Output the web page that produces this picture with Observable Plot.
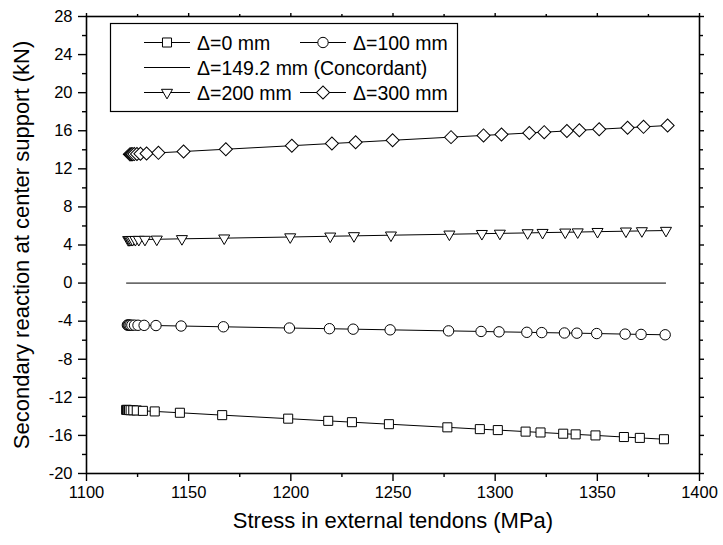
<!DOCTYPE html>
<html>
<head>
<meta charset="utf-8">
<script src="https://cdn.jsdelivr.net/npm/d3@7"></script>
<script src="https://cdn.jsdelivr.net/npm/@observablehq/plot@0.6"></script>
<style>
  body { margin: 0; background: #fff; }
  #chart { width: 723px; height: 545px; }
</style>
</head>
<body>
<div id="chart"></div>
<script>
// Secondary reaction at the center support versus external tendon stress,
// for several tendon eccentricities Δ.

const stress0 = [1119.4, 1119.8, 1120.2, 1120.8, 1121.6, 1122.9, 1124.6, 1127.6, 1133.4, 1145.7, 1166.4, 1198.7, 1218.3, 1229.9, 1248.0, 1276.6, 1292.5, 1301.3, 1314.9, 1322.2, 1333.3, 1339.4, 1349.1, 1363.0, 1370.8, 1382.6];
const reaction0 = [-13.32, -13.32, -13.33, -13.34, -13.35, -13.36, -13.38, -13.42, -13.48, -13.62, -13.87, -14.24, -14.47, -14.61, -14.82, -15.15, -15.34, -15.44, -15.60, -15.69, -15.82, -15.89, -16.00, -16.17, -16.26, -16.40];

const stress100 = [1120.0, 1120.4, 1120.8, 1121.4, 1122.2, 1123.5, 1125.2, 1128.2, 1134.0, 1146.3, 1167.0, 1199.3, 1218.9, 1230.5, 1248.6, 1277.2, 1293.1, 1301.9, 1315.5, 1322.8, 1333.9, 1340.0, 1349.7, 1363.6, 1371.4, 1383.2];
const reaction100 = [-4.41, -4.41, -4.41, -4.42, -4.42, -4.42, -4.43, -4.44, -4.46, -4.51, -4.59, -4.72, -4.79, -4.84, -4.91, -5.02, -5.08, -5.12, -5.17, -5.20, -5.24, -5.26, -5.30, -5.36, -5.39, -5.43];

const stressConcordant = [1119.6, 1383.4];
const reactionConcordant = [0, 0];

const stress200 = [1120.4, 1120.8, 1121.2, 1121.8, 1122.6, 1123.9, 1125.6, 1128.6, 1134.4, 1146.7, 1167.4, 1199.7, 1219.3, 1230.9, 1249.0, 1277.6, 1293.5, 1302.3, 1315.9, 1323.2, 1334.3, 1340.4, 1350.1, 1364.0, 1371.8, 1383.6];
const reaction200 = [4.55, 4.55, 4.55, 4.56, 4.56, 4.56, 4.57, 4.58, 4.60, 4.65, 4.72, 4.84, 4.92, 4.96, 5.03, 5.13, 5.19, 5.22, 5.27, 5.30, 5.34, 5.36, 5.40, 5.45, 5.48, 5.52];

const stress300 = [1121.2, 1121.6, 1122.0, 1122.6, 1123.4, 1124.7, 1126.4, 1129.4, 1135.2, 1147.5, 1168.2, 1200.5, 1220.1, 1231.7, 1249.8, 1278.4, 1294.3, 1303.1, 1316.7, 1324.0, 1335.1, 1341.2, 1350.9, 1364.8, 1372.6, 1384.4];
const reaction300 = [13.52, 13.52, 13.53, 13.54, 13.55, 13.56, 13.58, 13.61, 13.68, 13.82, 14.06, 14.43, 14.66, 14.79, 15.00, 15.33, 15.51, 15.61, 15.77, 15.85, 15.98, 16.05, 16.16, 16.32, 16.41, 16.55];

const seriesNames = ["Δ=0 mm", "Δ=100 mm", "Δ=149.2 mm (Concordant)", "Δ=200 mm", "Δ=300 mm"];

const xTicks = [1100, 1150, 1200, 1250, 1300, 1350, 1400];
const xMinorTicks = [1125, 1175, 1225, 1275, 1325, 1375];
const yTicks = [-20, -16, -12, -8, -4, 0, 4, 8, 12, 16, 20, 24, 28];
const yMinorTicks = [-18, -14, -10, -6, -2, 2, 6, 10, 14, 18, 22, 26];

const xTitle = "Stress in external tendons (MPa)";
const yTitle = "Secondary reaction at center support (kN)";

// marker styles per series (null = plain line)
const series = [
  {name: seriesNames[0], stress: stress0, reaction: reaction0, symbol: "square", r: 5.1, rotate: 0},
  {name: seriesNames[1], stress: stress100, reaction: reaction100, symbol: "circle", r: 5.2, rotate: 0},
  {name: seriesNames[2], stress: stressConcordant, reaction: reactionConcordant, symbol: null},
  {name: seriesNames[3], stress: stress200, reaction: reaction200, symbol: "triangle", r: 4.1, rotate: 180},
  {name: seriesNames[4], stress: stress300, reaction: reaction300, symbol: "square", r: 5.2, rotate: 45}
];

const font = "'Liberation Sans', Arial, sans-serif";
const blank = () => "";
const plain = d => String(d);

const marks = [
  // left and bottom axes with labels, ticks pointing outward
  Plot.axisY({ticks: yTicks, tickSize: 8, tickPadding: 6, fontSize: 16.5, tickFormat: plain, label: null, strokeWidth: 1.4}),
  Plot.axisY({ticks: yMinorTicks, tickSize: 4, tickFormat: blank, label: null, strokeWidth: 1.4}),
  Plot.axisX({ticks: xTicks, tickSize: 8, tickPadding: 5, fontSize: 16.5, tickFormat: plain, label: null, strokeWidth: 1.4}),
  Plot.axisX({ticks: xMinorTicks, tickSize: 4, tickFormat: blank, label: null, strokeWidth: 1.4}),
  // mirrored top and right axes, ticks only
  Plot.axisY({anchor: "right", ticks: yTicks, tickSize: 4, tickFormat: blank, label: null, strokeWidth: 1.4}),
  Plot.axisY({anchor: "right", ticks: yMinorTicks, tickSize: 3, tickFormat: blank, label: null, strokeWidth: 1.4}),
  Plot.axisX({anchor: "top", ticks: xTicks, tickSize: 4, tickFormat: blank, label: null, strokeWidth: 1.4}),
  Plot.axisX({anchor: "top", ticks: xMinorTicks, tickSize: 3, tickFormat: blank, label: null, strokeWidth: 1.4}),
  Plot.frame({stroke: "black", strokeWidth: 1.6}),
  // axis titles
  Plot.text([xTitle], {text: d => d, frameAnchor: "bottom", dy: 54, fontSize: 22}),
  Plot.text([yTitle], {text: d => d, frameAnchor: "left", textAnchor: "middle", rotate: -90, dx: -65, fontSize: 22})
];

for (const s of series) {
  const data = s.stress.map((x, i) => ({x, y: s.reaction[i]}));
  marks.push(Plot.line(data, {x: "x", y: "y", stroke: "black", strokeWidth: 1}));
}
for (const s of series) {
  if (!s.symbol) continue;
  const data = s.stress.map((x, i) => ({x, y: s.reaction[i]}));
  marks.push(Plot.dot(data, {x: "x", y: "y", symbol: s.symbol, r: s.r, rotate: s.rotate,
                             fill: "white", stroke: "black", strokeWidth: 1}));
}

const chart = Plot.plot({
  width: 723,
  height: 545,
  marginLeft: 86,
  marginRight: 24,
  marginTop: 16,
  marginBottom: 72,
  style: {fontFamily: font, background: "#fff", color: "black", overflow: "visible"},
  x: {domain: [1100, 1400]},
  y: {domain: [-20, 28]},
  marks
});
document.getElementById("chart").append(chart);

// legend box in the upper-left corner of the frame
const svg = d3.select(chart);
const legend = svg.append("g")
  .attr("font-family", font).attr("font-size", 19.5).attr("text-anchor", "start");
legend.append("rect")
  .attr("x", 110.5).attr("y", 23.5).attr("width", 347).attr("height", 88)
  .attr("fill", "white").attr("stroke", "black").attr("stroke-width", 1.2);

const slots = [
  {row: 0, col: 0}, {row: 0, col: 1}, {row: 1, col: 0}, {row: 2, col: 0}, {row: 2, col: 1}
];
series.forEach((s, i) => {
  const {row, col} = slots[i];
  const x0 = col === 0 ? 144 : 300;
  const y = 42.5 + row * 25;
  const g = legend.append("g").attr("transform", `translate(${x0},${y})`);
  g.append("line").attr("x1", 0).attr("x2", 46).attr("y1", 0).attr("y2", 0)
    .attr("stroke", "black").attr("stroke-width", 1);
  if (s.symbol) {
    const type = {square: d3.symbolSquare, circle: d3.symbolCircle, triangle: d3.symbolTriangle}[s.symbol];
    g.append("path")
      .attr("d", d3.symbol(type, s.r * s.r * Math.PI)())
      .attr("transform", `translate(23,0) rotate(${s.rotate})`)
      .attr("fill", "white").attr("stroke", "black").attr("stroke-width", 1);
  }
  g.append("text").attr("x", 53).attr("y", 0).attr("dy", "0.36em").text(s.name);
});
</script>
</body>
</html>
